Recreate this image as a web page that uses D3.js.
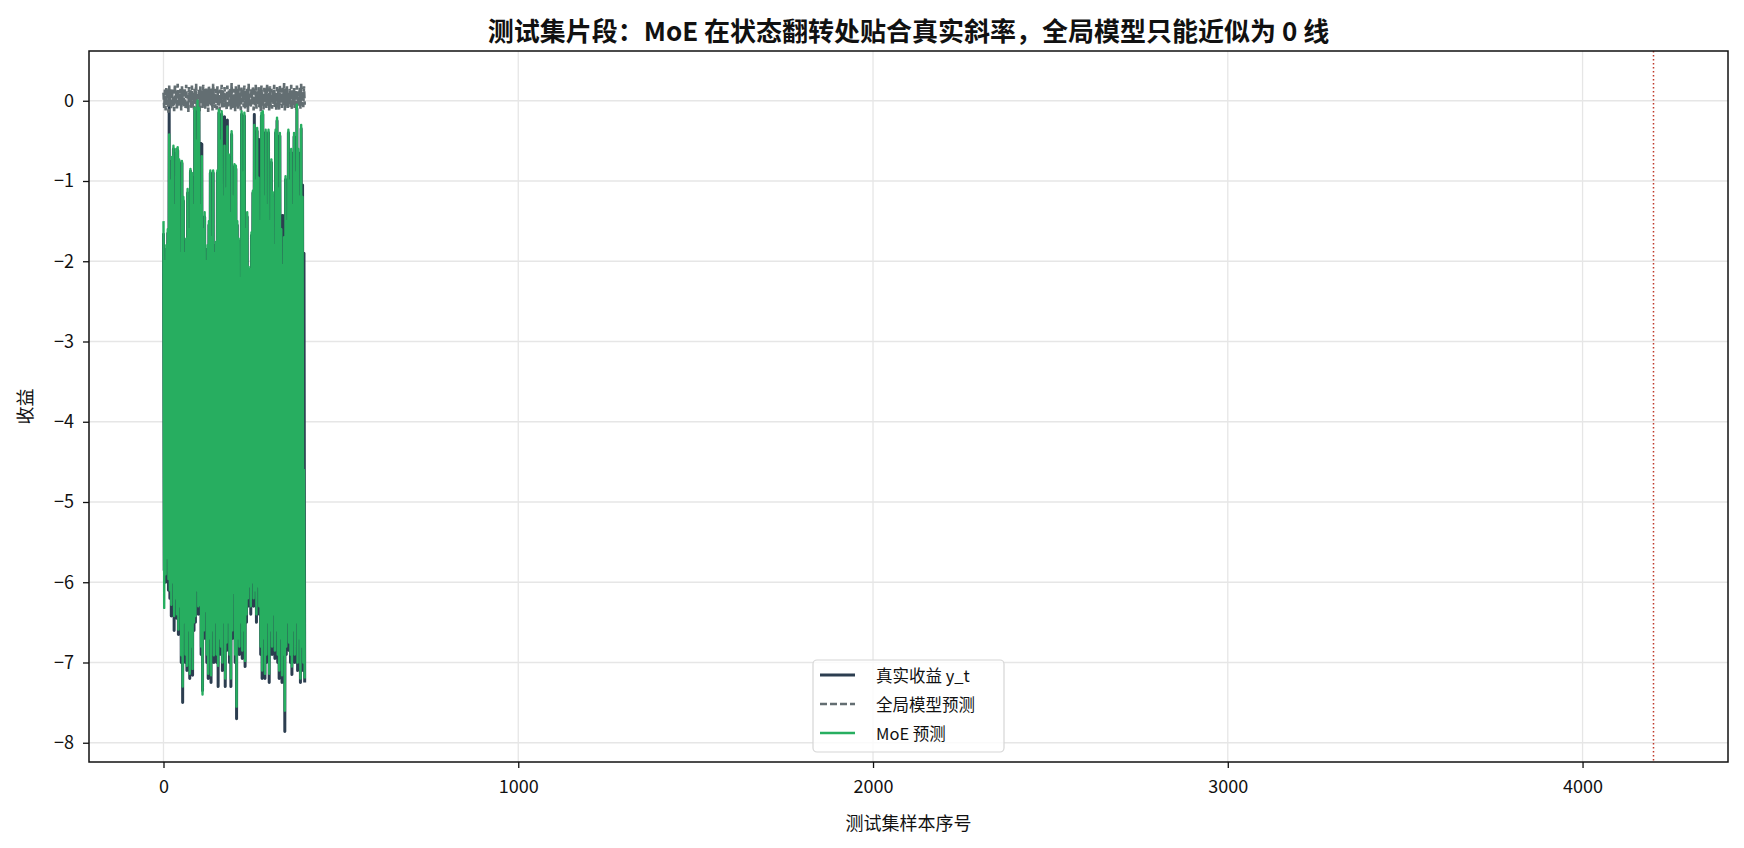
<!DOCTYPE html>
<html><head><meta charset="utf-8">
<script src="https://cdn.jsdelivr.net/npm/d3@7"></script>
<style>body{margin:0;background:#fff}svg{display:block}text{font-family:"Noto Sans CJK SC","Noto Sans",sans-serif;fill:#111}</style>
</head><body><svg id="c" width="1744" height="848"></svg>
<script>
const xTicks = [0, 1000, 2000, 3000, 4000];
const yTicks = [0, -1, -2, -3, -4, -5, -6, -7, -8];
const splitIndex = 4200;
const seriesNames = ["真实收益 y_t", "全局模型预测", "MoE 预测"];
const yTrue = [
-1.65,-5.85,-2.05,-6.00,-1.85,-5.80,-1.65,-6.10,-0.07,-6.20,
-1.05,-6.42,-0.75,-6.10,-0.60,-6.60,-1.35,-6.30,-0.65,-6.45,
-0.62,-6.65,-0.75,-6.40,-1.95,-7.00,-0.78,-7.50,-1.25,-6.60,
-1.95,-7.00,-1.75,-7.10,-1.15,-6.70,-1.65,-7.20,-0.88,-6.90,
-0.95,-7.16,-1.35,-6.60,-0.12,-6.50,-0.55,-6.20,-0.05,-6.40,
-0.12,-6.35,-0.53,-6.90,-0.54,-7.35,-1.65,-6.70,-1.45,-6.45,
-2.05,-7.00,-1.85,-7.20,-1.55,-6.80,-0.90,-7.25,-1.75,-6.70,
-0.90,-7.00,-1.95,-6.60,-1.80,-7.00,-0.90,-7.30,-0.15,-6.80,
-0.55,-6.90,-0.17,-7.10,-1.25,-6.60,-0.20,-7.30,-1.15,-6.85,
-0.24,-6.60,-0.70,-7.00,-1.45,-7.30,-0.42,-6.70,-1.25,-6.20,
-0.82,-7.00,-0.85,-7.70,-1.55,-6.80,-1.75,-6.90,-2.25,-6.60,
-0.17,-6.95,-0.95,-6.70,-0.19,-7.05,-1.65,-6.50,-1.45,-6.30,
-2.10,-6.15,-2.15,-6.40,-1.68,-6.10,-1.15,-6.30,-0.17,-6.20,
-1.05,-6.50,-0.38,-6.15,-0.48,-6.40,-1.55,-6.90,-0.19,-7.20,
-0.17,-6.80,-1.25,-7.20,-0.40,-7.00,-1.35,-6.60,-0.40,-7.25,
-1.55,-6.70,-0.77,-6.90,-1.18,-6.50,-1.85,-6.95,-0.40,-6.70,
-0.25,-7.00,-1.15,-7.20,-0.44,-6.80,-1.65,-7.25,-1.43,-7.00,
-1.75,-7.86,-0.98,-6.90,-1.55,-6.60,-0.40,-6.85,-1.05,-7.00,
-0.65,-7.15,-1.35,-6.70,-0.45,-7.00,-0.95,-6.60,-0.10,-7.10,
-0.65,-6.80,-1.25,-7.25,-0.35,-6.90,-1.05,-7.10,-1.90,-7.25];
const yGlobal = [
0.10,-0.09,0.14,-0.12,0.17,-0.04,0.08,-0.15,0.19,-0.02,
0.13,-0.10,0.16,-0.07,0.06,-0.13,0.20,-0.03,0.12,-0.11,
0.21,-0.06,0.09,-0.05,0.15,-0.12,0.18,0.00,0.11,-0.08,
0.16,-0.10,0.20,-0.05,0.07,-0.14,0.17,-0.02,0.13,-0.09,
0.19,-0.07,0.10,-0.11,0.15,-0.04,0.21,-0.12,0.08,-0.06,
0.14,-0.13,0.18,-0.03,0.12,-0.09,0.20,-0.08,0.09,-0.10,
0.17,-0.05,0.13,-0.14,0.19,-0.01,0.11,-0.07,0.16,-0.12,
0.21,-0.04,0.10,-0.09,0.15,-0.11,0.18,-0.06,0.07,-0.13,
0.14,-0.02,0.20,-0.10,0.12,-0.08,0.17,-0.05,0.09,-0.12,
0.19,-0.07,0.13,-0.03,0.16,-0.11,0.22,-0.09,0.08,-0.06,
0.15,-0.13,0.18,-0.04,0.11,-0.10,0.20,-0.07,0.10,-0.12,
0.17,-0.02,0.14,-0.08,0.19,-0.11,0.12,-0.05,0.16,-0.14,
0.21,-0.06,0.09,-0.09,0.15,-0.03,0.18,-0.12,0.13,-0.07,
0.20,-0.10,0.11,-0.04,0.17,-0.08,0.14,-0.13,0.19,-0.05,
0.08,-0.11,0.16,-0.02,0.12,-0.09,0.21,-0.06,0.10,-0.12,
0.18,-0.07,0.15,-0.10,0.13,-0.04,0.20,-0.08,0.09,-0.13,
0.17,-0.05,0.14,-0.11,0.19,-0.03,0.11,-0.09,0.16,-0.06,
0.22,-0.12,0.12,-0.07,0.18,-0.10,0.10,-0.04,0.15,-0.08,
0.20,-0.11,0.13,-0.05,0.17,-0.09,0.14,-0.12,0.19,-0.03,
0.11,-0.07,0.16,-0.10,0.21,-0.06,0.12,-0.08,0.18,-0.05];
const yMoE = [
-1.50,-6.32,-2.00,-5.90,-1.80,-5.70,-1.60,-5.96,-0.42,-6.10,
-1.00,-6.28,-0.70,-6.00,-0.56,-6.42,-1.30,-6.20,-0.60,-6.40,
-0.58,-6.59,-0.73,-6.30,-1.90,-6.91,-0.75,-7.30,-1.20,-6.50,
-1.90,-6.90,-1.72,-7.04,-1.10,-6.60,-1.60,-7.14,-0.85,-6.80,
-0.90,-7.08,-1.30,-6.50,-0.09,-6.42,-0.50,-6.10,0.00,-6.30,
-0.09,-6.28,-1.30,-6.80,-0.69,-7.40,-1.60,-6.60,-1.39,-6.36,
-2.00,-6.90,-1.80,-7.14,-1.50,-6.70,-0.87,-7.16,-1.70,-6.60,
-0.87,-6.91,-1.90,-6.50,-1.76,-6.90,-0.87,-7.04,-0.11,-6.70,
-0.50,-6.80,-0.13,-7.00,-1.20,-6.50,-0.56,-7.20,-1.10,-6.75,
-0.32,-6.50,-0.67,-6.90,-1.40,-7.20,-0.38,-6.60,-1.20,-6.13,
-0.79,-6.90,-0.81,-7.55,-1.50,-6.70,-1.72,-6.80,-2.21,-6.50,
-0.13,-6.85,-0.90,-6.60,-0.15,-6.98,-1.60,-6.40,-1.39,-6.20,
-2.07,-6.05,-2.10,-6.30,-1.64,-6.00,-1.12,-6.20,-0.30,-6.10,
-1.00,-6.40,-0.34,-6.05,-0.96,-6.30,-1.50,-6.80,-0.15,-7.10,
-0.13,-6.70,-1.20,-7.14,-0.36,-6.90,-1.30,-6.50,-0.36,-7.14,
-1.50,-6.60,-0.73,-6.80,-1.14,-6.40,-1.80,-6.85,-0.36,-6.60,
-0.21,-6.90,-1.10,-7.10,-0.40,-6.70,-1.60,-7.16,-2.05,-6.90,
-1.70,-7.60,-0.94,-6.80,-1.50,-6.50,-0.36,-6.75,-1.00,-6.90,
-0.60,-7.05,-1.30,-6.60,-0.40,-6.90,-0.90,-6.50,-0.05,-7.00,
-0.60,-6.70,-1.20,-7.20,-0.30,-6.80,-1.20,-7.00,-4.60,-7.20];
const sampleStep = 2;

const svg = d3.select("#c");
const L = 89, R = 1728, T = 51, B = 762;
const x = d3.scaleLinear().domain([-210, 4410]).range([L, R]);
const y = d3.scaleLinear().domain([-8.24, 0.62]).range([B, T]);

// grid
const g = svg.append("g");
g.selectAll("line.gx").data(xTicks).join("line")
  .attr("x1", d => x(d)).attr("x2", d => x(d)).attr("y1", T).attr("y2", B)
  .attr("stroke", "#e6e6e6").attr("stroke-width", 1.3);
g.selectAll("line.gy").data(yTicks).join("line").attr("class","gy")
  .attr("x1", L).attr("x2", R).attr("y1", d => y(d)).attr("y2", d => y(d))
  .attr("stroke", "#e6e6e6").attr("stroke-width", 1.3);

svg.append("clipPath").attr("id","pc").append("rect")
  .attr("x", L).attr("y", T).attr("width", R-L).attr("height", B-T);
const plot = svg.append("g").attr("clip-path","url(#pc)");

const line = d3.line().x((d,i) => x(i*sampleStep)).y(d => y(d));
plot.append("path").datum(yTrue).attr("d", line).attr("fill","none")
  .attr("stroke","#2c3e50").attr("stroke-width",3).attr("stroke-linejoin","round");
plot.append("path").datum(yGlobal).attr("d", line).attr("fill","none")
  .attr("stroke","#636e72").attr("stroke-width",2.6).attr("stroke-dasharray","7,3");
plot.append("path").datum(yMoE).attr("d", line).attr("fill","none")
  .attr("stroke","#27ae60").attr("stroke-width",2.4).attr("stroke-linejoin","round");

plot.append("line").attr("x1", x(splitIndex)).attr("x2", x(splitIndex))
  .attr("y1", T).attr("y2", B).attr("stroke","#c0392b").attr("stroke-width",1.5)
  .attr("stroke-dasharray","1.5,2.5");

// axes
const xa = svg.append("g").attr("transform",`translate(0,${B})`)
  .call(d3.axisBottom(x).tickValues(xTicks).tickSize(6).tickPadding(12).tickFormat(d3.format("d")));
const ya = svg.append("g").attr("transform",`translate(${L},0)`)
  .call(d3.axisLeft(y).tickValues(yTicks).tickSize(6).tickPadding(9).tickFormat(d => d < 0 ? "\u2212" + Math.abs(d) : d));
[xa, ya].forEach(a => {
  a.select(".domain").remove();
  a.selectAll(".tick line").attr("stroke","#111").attr("stroke-width",1.3);
  a.selectAll("text").attr("font-size", 18).attr("fill","#111")
    .style("font-family",'"Noto Sans CJK SC","Noto Sans",sans-serif');
});
svg.append("rect").attr("x",L).attr("y",T).attr("width",R-L).attr("height",B-T)
  .attr("fill","none").attr("stroke","#111").attr("stroke-width",1.5);

// labels
svg.append("text").attr("x",(L+R)/2).attr("y",29).attr("text-anchor","middle")
  .attr("dominant-baseline","central").attr("font-size",26).attr("font-weight","bold")
  .text("测试集片段：MoE 在状态翻转处贴合真实斜率，全局模型只能近似为 0 线");
svg.append("text").attr("x",(L+R)/2).attr("y",822).attr("text-anchor","middle")
  .attr("dominant-baseline","central").attr("font-size",18).text("测试集样本序号");
svg.append("text").attr("transform",`translate(24,${(T+B)/2}) rotate(-90)`)
  .attr("text-anchor","middle").attr("dominant-baseline","central").attr("font-size",18).text("收益");

// legend
const lg = svg.append("g");
lg.append("rect").attr("x",813).attr("y",660).attr("width",191).attr("height",92)
  .attr("rx",4).attr("fill","#fff").attr("fill-opacity",0.8).attr("stroke","#d6d6d6").attr("stroke-width",1.2);
const styles = [
  {c:"#2c3e50", w:3, dash:null},
  {c:"#636e72", w:2.6, dash:"7,3"},
  {c:"#27ae60", w:2.4, dash:null}];
seriesNames.forEach((n,i) => {
  const yy = 675 + i*29;
  lg.append("line").attr("x1",820).attr("x2",855).attr("y1",yy).attr("y2",yy)
    .attr("stroke",styles[i].c).attr("stroke-width",styles[i].w).attr("stroke-dasharray",styles[i].dash);
  lg.append("text").attr("x",876).attr("y",yy).attr("dominant-baseline","central")
    .attr("font-size",16.5).text(n);
});
</script></body></html>
